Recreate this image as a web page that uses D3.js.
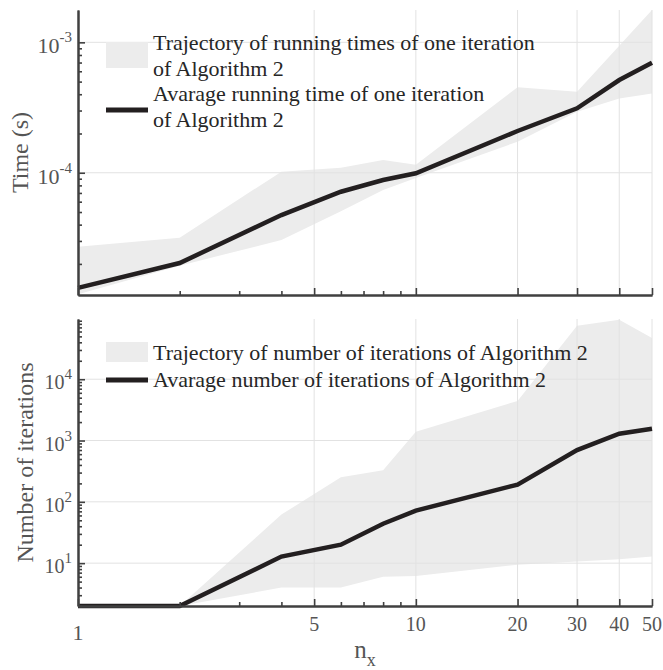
<!DOCTYPE html>
<html>
<head>
<meta charset="utf-8">
<script src="https://cdn.jsdelivr.net/npm/d3@7"></script>
<style>
  body { margin: 0; background: #fff; }
</style>
</head>
<body>
<div id="chart"></div>
<script>
// grid size values along the x axis
var nx = [1, 2, 4, 6, 8, 10, 20, 30, 40, 50];
// running time of one iteration (s)
var timeAvg  = [1.31e-5, 2.03e-5, 4.74e-5, 7.15e-5, 8.79e-5, 9.9e-5, 2.09e-4, 3.12e-4, 5.14e-4, 6.98e-4];
var timeLow  = [1.17e-5, 1.94e-5, 3.05e-5, 5.07e-5, 7.36e-5, 9.1e-5, 1.73e-4, 2.94e-4, 3.71e-4, 4.06e-4];
var timeHigh = [2.71e-5, 3.18e-5, 1.02e-4, 1.09e-4, 1.25e-4, 1.15e-4, 4.52e-4, 4.18e-4, 9.4e-4, 1.77e-3];
// number of iterations
var iterAvg  = [2, 2, 12.8, 20, 44, 72, 191, 697, 1291, 1560];
var iterLow  = [2, 2, 4.0, 4.0, 6.0, 6.2, 9.4, 10.6, 11.6, 12.8];
var iterHigh = [2, 2, 62, 252, 327, 1393, 4416, 74600, 93000, 46900];

var xTickValues = [1, 5, 10, 20, 30, 40, 50];

var svgWidth = 663;
var svgHeight = 670;
var plotLeft = 78;
var plotRight = 652;

var fontFamily = "'Liberation Serif', 'DejaVu Serif', serif";
var axisColor = "#404040";
var gridColor = "#e2e2e2";
var bandColor = "#ececec";
var lineColor = "#231f20";
var tickText = "#555555";

var svg = d3.select("#chart").append("svg")
    .attr("width", svgWidth)
    .attr("height", svgHeight)
    .attr("font-family", fontFamily)
    .style("font-family", fontFamily);

var x = d3.scaleLog().domain([1, 50]).range([plotLeft, plotRight]);

// draws one panel
function panel(opts) {
  var y = d3.scaleLog().domain(opts.domain).range([opts.bottom, opts.top]);
  var g = svg.append("g");
  var rows = nx.map(function(v, i) {
    return { x: v, avg: opts.avg[i], lo: opts.lo[i], hi: opts.hi[i] };
  });

  // band
  g.append("path")
    .datum(rows)
    .attr("fill", bandColor)
    .attr("d", d3.area().x(d => x(d.x)).y0(d => y(d.lo)).y1(d => y(d.hi)));

  // grid
  var yMajor = y.ticks().filter(function(v) {
    var m = v / Math.pow(10, Math.floor(Math.log10(v) + 1e-9));
    return Math.abs(m - 1) < 1e-6;
  });
  g.append("g").selectAll("line")
    .data(xTickValues.filter(v => v > 1))
    .enter().append("line")
    .attr("x1", d => x(d)).attr("x2", d => x(d))
    .attr("y1", opts.top).attr("y2", opts.bottom)
    .attr("stroke", gridColor).attr("stroke-width", 1);
  g.append("g").selectAll("line")
    .data(yMajor)
    .enter().append("line")
    .attr("x1", plotLeft).attr("x2", plotRight)
    .attr("y1", d => y(d)).attr("y2", d => y(d))
    .attr("stroke", gridColor).attr("stroke-width", 1);

  // average line
  g.append("path")
    .datum(rows)
    .attr("fill", "none")
    .attr("stroke", lineColor)
    .attr("stroke-width", 4.5)
    .attr("d", d3.line().x(d => x(d.x)).y(d => y(d.avg)));

  // axes: minor and major ticks pointing inward
  var xMinor = x.ticks().filter(v => xTickValues.indexOf(v) < 0);
  var yMinor = y.ticks().filter(v => yMajor.indexOf(v) < 0);

  function styleAxis(a) {
    a.selectAll("path").attr("stroke", axisColor).attr("stroke-width", 2);
    a.selectAll("line").attr("stroke", axisColor).attr("stroke-width", 1.6);
  }
  styleAxis(g.append("g").attr("transform", `translate(0, ${opts.bottom})`)
    .call(d3.axisBottom(x).tickValues(xMinor).tickSizeInner(-4).tickSizeOuter(0).tickFormat("")));
  styleAxis(g.append("g").attr("transform", `translate(0, ${opts.bottom})`)
    .call(d3.axisBottom(x).tickValues(xTickValues).tickSizeInner(-7).tickSizeOuter(0).tickFormat("")));
  styleAxis(g.append("g").attr("transform", `translate(${plotLeft}, 0)`)
    .call(d3.axisLeft(y).tickValues(yMinor).tickSizeInner(-4).tickSizeOuter(0).tickFormat("")));
  styleAxis(g.append("g").attr("transform", `translate(${plotLeft}, 0)`)
    .call(d3.axisLeft(y).tickValues(yMajor).tickSizeInner(-7).tickSizeOuter(0).tickFormat("")));
  g.selectAll(".domain").attr("stroke", axisColor).attr("stroke-width", 2);

  // y tick labels 10^k
  var labels = g.append("g").selectAll("text")
    .data(yMajor)
    .enter().append("text")
    .attr("x", 72)
    .attr("y", d => y(d) + opts.labelShift)
    .attr("text-anchor", "end")
    .attr("fill", tickText)
    .style("font-size", opts.tickSize + "px");
  labels.append("tspan").text("10");
  labels.append("tspan")
    .attr("dy", -opts.supShift)
    .style("font-size", opts.supSize + "px")
    .text(d => String(Math.round(Math.log10(d))).replace("\u2212", "-"));

  // y axis title
  g.append("text")
    .attr("transform", `translate(${opts.titleX}, ${(opts.top + opts.bottom) / 2}) rotate(-90)`)
    .attr("text-anchor", "middle")
    .attr("fill", tickText)
    .style("font-size", "24px")
    .text(opts.title);

  // legend
  var lg = g.append("g");
  lg.append("rect")
    .attr("x", 106).attr("y", opts.patchY)
    .attr("width", 42).attr("height", opts.patchH)
    .attr("fill", bandColor);
  lg.append("line")
    .attr("x1", 106).attr("x2", 148)
    .attr("y1", opts.lineY).attr("y2", opts.lineY)
    .attr("stroke", lineColor).attr("stroke-width", 5);
  lg.selectAll("text.leg")
    .data(opts.legend)
    .enter().append("text")
    .attr("class", "leg")
    .attr("x", 153)
    .attr("y", d => d.y)
    .attr("fill", "#262626")
    .style("font-size", "22px")
    .text(d => d.t);

  return g;
}

panel({
  top: 10, bottom: 295,
  domain: [1.155e-5, 1.77e-3],
  avg: timeAvg, lo: timeLow, hi: timeHigh,
  labelShift: 11, tickSize: 22, supSize: 15, supShift: 11,
  title: "Time (s)", titleX: 28,
  patchY: 42, patchH: 26, lineY: 110,
  legend: [
    { t: "Trajectory of running times of one iteration", y: 50 },
    { t: "of Algorithm 2", y: 76 },
    { t: "Avarage running time of one iteration", y: 101 },
    { t: "of Algorithm 2", y: 127 }
  ]
});

panel({
  top: 319, bottom: 606,
  domain: [2, 9.6e4],
  avg: iterAvg, lo: iterLow, hi: iterHigh,
  labelShift: 10, tickSize: 20, supSize: 15, supShift: 10,
  title: "Number of iterations", titleX: 33,
  patchY: 342, patchH: 20, lineY: 380,
  legend: [
    { t: "Trajectory of number of iterations of Algorithm 2", y: 360 },
    { t: "Avarage number of iterations of Algorithm 2", y: 387 }
  ]
});

// x tick labels
svg.append("g").selectAll("text")
  .data(xTickValues)
  .enter().append("text")
  .attr("x", d => x(d))
  .attr("y", d => d === 1 ? 640 : 631)
  .attr("text-anchor", "middle")
  .attr("fill", tickText)
  .style("font-size", d => d === 1 ? "22px" : "20px")
  .text(d => d);

// x axis title n_x
var xt = svg.append("text")
  .attr("x", (plotLeft + plotRight) / 2)
  .attr("y", 658)
  .attr("text-anchor", "middle")
  .attr("fill", tickText)
  .style("font-size", "25px");
xt.append("tspan").text("n");
xt.append("tspan").attr("dy", 8).style("font-size", "18px").text("x");
</script>
</body>
</html>
